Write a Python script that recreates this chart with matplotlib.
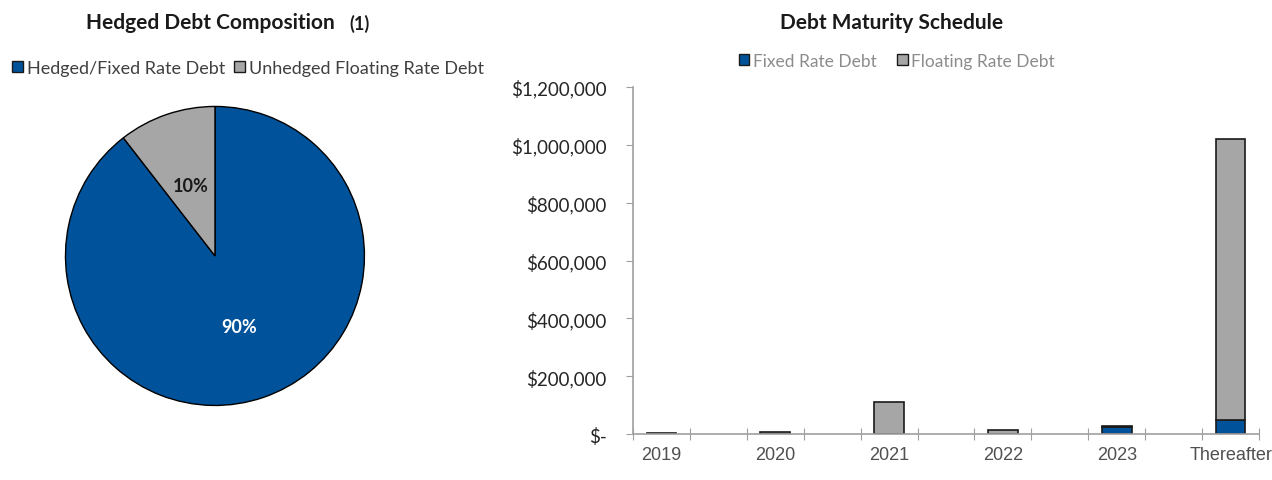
import matplotlib

matplotlib.use("Agg")
import matplotlib.pyplot as plt
from matplotlib.patches import Patch
import numpy as np

# pie data
pie_labels = ["Hedged/Fixed Rate Debt", "Unhedged Floating Rate Debt"]
pie_values = [89.5, 10.5]
pie_pct_text = ["90%", "10%"]

# maturity data
years = ["2019", "2020", "2021", "2022", "2023", "Thereafter"]
fixed_debt = [0, 0, 0, 0, 24000, 47000]
floating_debt = [3000, 6000, 110000, 14000, 3000, 973000]
y_ticks = [0, 200000, 400000, 600000, 800000, 1000000, 1200000]
y_tick_labels = ["$-", "$200,000", "$400,000", "$600,000", "$800,000", "$1,000,000", "$1,200,000"]

BLUE = "#00539b"
GRAY = "#a6a6a6"
AXIS_GRAY = "#a0a0a0"
TITLE_FONT = ["Lato", "DejaVu Sans"]
TICK_FONT = ["Liberation Sans Narrow", "Liberation Sans", "DejaVu Sans"]

fig = plt.figure(figsize=(12.72, 4.81), dpi=100)

# ---- pie ----
ax_pie = fig.add_axes([0.0503, 0.1518, 0.2374, 0.628])
wedges, _ = ax_pie.pie(
    pie_values,
    colors=[BLUE, GRAY],
    startangle=90,
    counterclock=False,
    wedgeprops={"edgecolor": "black", "linewidth": 1.0},
)
for w, txt, col in zip(wedges, pie_pct_text, ["white", "#1a1a1a"]):
    ang = np.deg2rad((w.theta1 + w.theta2) / 2)
    ax_pie.text(0.5 * np.cos(ang), 0.5 * np.sin(ang), txt, ha="center", va="center",
                fontsize=13, fontweight="bold", color=col, family=TITLE_FONT)
ax_pie.set_xlim(-1.01, 1.01)
ax_pie.set_ylim(-1.01, 1.01)
ax_pie.set_aspect("equal")

fig.text(0.165, 0.953, "Hedged Debt Composition", ha="center", va="center",
         fontsize=15, fontweight="bold", color="#1a1a1a", family=TITLE_FONT)
fig.text(0.2825, 0.951, "(1)", ha="center", va="center",
         fontsize=13, fontweight="bold", color="#1a1a1a", family=TITLE_FONT)

pie_handles = [Patch(facecolor=BLUE, edgecolor="#1a1a1a", linewidth=1),
               Patch(facecolor=GRAY, edgecolor="#1a1a1a", linewidth=1)]
fig.legend(pie_handles, pie_labels, loc="center", bbox_to_anchor=(0.195, 0.857), ncol=2,
           frameon=False, handlelength=0.6, handleheight=0.6, handletextpad=0.2,
           columnspacing=0.5, labelcolor="#404040", prop={"family": TITLE_FONT, "size": 13})

# ---- bars ----
ax = fig.add_axes([0.4976, 0.0956, 0.4922, 0.7214])
x = np.arange(len(years))
ax.bar(x, fixed_debt, width=0.26, color=BLUE, edgecolor="#1a1a1a", linewidth=1.2)
ax.bar(x, floating_debt, width=0.26, bottom=fixed_debt, color=GRAY, edgecolor="#1a1a1a", linewidth=1.2)
ax.set_xlim(-0.25, 5.25)
ax.set_ylim(0, 1200000)
ax.set_yticks(y_ticks)
ax.set_yticklabels(y_tick_labels, family=TITLE_FONT, fontsize=13.5, color="#262626")
ax.set_xticks(np.arange(-0.25, 5.26, 0.5))
ax.set_xticklabels([])
for xi, lab in zip(x, years):
    ax.text(xi, -0.035, lab, transform=ax.get_xaxis_transform(), ha="center", va="top",
            fontsize=13, color="#505050", family=TICK_FONT)
for side in ["top", "right"]:
    ax.spines[side].set_visible(False)
for side in ["left", "bottom"]:
    ax.spines[side].set_color(AXIS_GRAY)
    ax.spines[side].set_linewidth(1.2)
ax.tick_params(axis="y", direction="out", length=5, color=AXIS_GRAY, pad=14)
ax.tick_params(axis="x", direction="inout", length=8, color=AXIS_GRAY)

fig.text(0.701, 0.953, "Debt Maturity Schedule", ha="center", va="center",
         fontsize=15, fontweight="bold", color="#1a1a1a", family=TITLE_FONT)
bar_handles = [Patch(facecolor=BLUE, edgecolor="#1a1a1a", linewidth=1),
               Patch(facecolor=GRAY, edgecolor="#1a1a1a", linewidth=1)]
fig.legend(bar_handles, ["Fixed Rate Debt", "Floating Rate Debt"], loc="center",
           bbox_to_anchor=(0.705, 0.871), ncol=2, frameon=False, handlelength=0.6,
           handleheight=0.6, handletextpad=0.2, columnspacing=1.2, labelcolor="#8c8c8c",
           prop={"family": TITLE_FONT, "size": 12.5})

fig.savefig("out.png", dpi=100)
